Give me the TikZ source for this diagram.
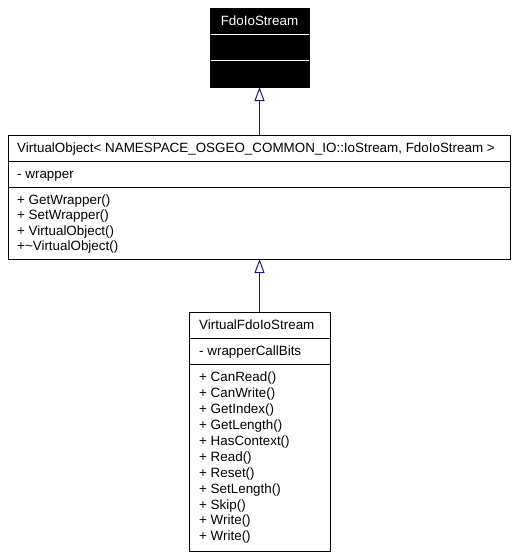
\documentclass[tikz,border=0pt]{standalone}
\usepackage{fontspec}
\setmainfont{Liberation Sans}
\usetikzlibrary{arrows.meta}
\definecolor{edgeblue}{RGB}{25,25,112}
\begin{document}
\begin{tikzpicture}[x=1pt,y=-1pt,
  box/.style={draw=black, line width=1pt, inner sep=0pt, outer sep=0pt, anchor=north west},
  sepline/.style={line width=1pt},
  txt/.style={anchor=west, inner sep=0pt, text height=9.6pt, text depth=0pt, font=\fontsize{13.4}{15}\selectfont},
  inh/.style={draw=edgeblue, line width=1pt, -{Triangle[open, width=10pt, length=14pt]}}
]
\useasboundingbox[fill=white] (0,0) rectangle (517,557);
% FdoIoStream
\node[box, fill=black, minimum width=99pt, minimum height=79pt] (fdo) at (210,8) {};
\draw[sepline, white] (210.5,34) -- (308.5,34);
\draw[sepline, white] (210.5,60) -- (308.5,60);
\node[txt, anchor=center, text=white] (fdot) at (259.5,21) {FdoIoStream};
% VirtualObject
\node[box, minimum width=502pt, minimum height=124pt] (vo) at (8,135) {};
\draw[sepline] (8,161) -- (510,161);
\draw[sepline] (8,187) -- (510,187);
\node[txt] (vot) at (17,148) {VirtualObject< NAMESPACE\_OSGEO\_COMMON\_IO::IoStream, FdoIoStream >};
\node[txt] (voa) at (17,174) {- wrapper};
\node[txt] (vom1) at (17,199.5) {+ GetWrapper()};
\node[txt] (vom2) at (17,215) {+ SetWrapper()};
\node[txt] (vom3) at (17,230.5) {+ VirtualObject()};
\node[txt] (vom4) at (17,246) {+\textasciitilde VirtualObject()};
% VirtualFdoIoStream
\node[box, minimum width=141pt, minimum height=239pt] (vfs) at (189,312) {};
\draw[sepline] (189,338) -- (330,338);
\draw[sepline] (189,364) -- (330,364);
\node[txt] (vfst) at (199,325) {VirtualFdoIoStream};
\node[txt] (vfsa) at (199,351) {- wrapperCallBits};
\foreach \name [count=\i from 0] in {CanRead,CanWrite,GetIndex,GetLength,HasContext,Read,Reset,SetLength,Skip,Write,Write}
  \node[txt] (vfsm\i) at (199,{377+15.9*\i}) {+ \name()};
% inheritance
\draw[inh] (vo.north -| fdo.south) -- (fdo.south);
\draw[inh] (vfs.north) -- (vfs.north |- vo.south);
\end{tikzpicture}
\end{document}
